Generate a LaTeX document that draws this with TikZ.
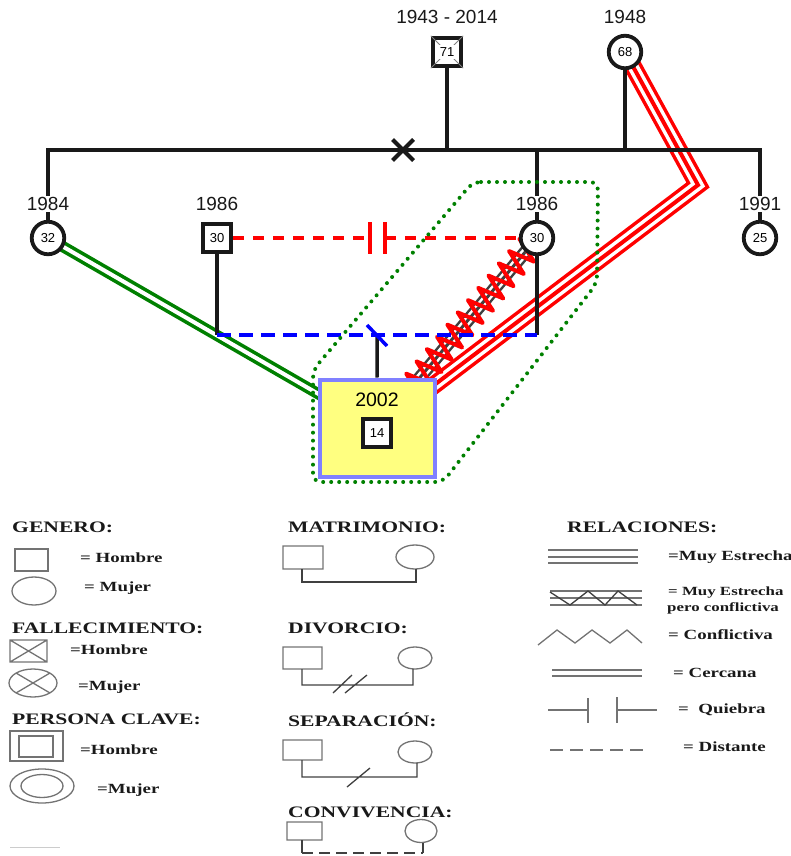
\documentclass[tikz,border=0pt]{standalone}
\usepackage{fontspec}
\setmainfont{Liberation Sans}
\newfontfamily\legfont[FakeStretch=1.35]{Liberation Serif}
\usetikzlibrary{calc,backgrounds,shapes.misc,decorations.pathmorphing}
\definecolor{verde}{RGB}{0,128,0}
\definecolor{clavefill}{RGB}{255,255,128}
\definecolor{claveline}{RGB}{128,128,255}

\begin{document}
\begin{tikzpicture}[x=1pt,y=-1pt,
    kin/.style={line width=3.5pt,draw=black!90},
    male/.style={draw=black!90,fill=white,line width=3.8pt,minimum size=28.5pt,inner sep=0pt,font=\fontsize{13}{14}\selectfont},
    female/.style={male,circle,minimum size=32.5pt},
    year/.style={fill=white,inner sep=1pt,text=black!90,font=\fontsize{19}{20}\selectfont},
    clave/.style={draw=claveline,fill=clavefill,line width=4pt,minimum width=115pt,minimum height=97pt},
    cercana/.style={draw=verde,line width=3.6pt,double=white,double distance=4pt},
    muyestrecha/.style={draw=red,line width=18pt,postaction={draw=white,line width=11pt},postaction={draw=red,line width=4pt}},
    tenso/.style={draw=black!75,line width=13pt,postaction={draw=white,line width=8pt},postaction={draw=black!75,line width=3pt}},
    conflicto/.style={draw=red,line width=4pt,line join=round,decorate,decoration={zigzag,segment length=16pt,amplitude=13pt}},
    distante/.style={draw=blue,line width=3.5pt,dash pattern=on 14pt off 8pt},
    quiebra/.style={draw=red,line width=3.5pt,dash pattern=on 11pt off 9pt},
    foco/.style={draw=verde,line width=4pt,dash pattern=on 0pt off 8pt,line cap=round,rounded corners=8pt},
    leghead/.style={anchor=west,inner sep=0pt,text=black!90,font=\legfont\bfseries\fontsize{16}{18}\selectfont},
    legitem/.style={leghead,font=\legfont\bfseries\fontsize{14}{15}\selectfont},
    legsym/.style={draw=black!55,line width=1.3pt}]
    \useasboundingbox (0,0) rectangle (791,856);

    \node[male] (gf) at (447,52) {};
    \draw[gray,line width=0.8pt] (gf.north west) -- (gf.south east) (gf.north east) -- (gf.south west);
    \node[fill=white,inner sep=2.5pt,font=\fontsize{13}{14}\selectfont] (gfa) at (gf) {71};
    \node[year] (gfy) at (447,17) {1943 - 2014};
    \node[female] (gm) at (625,52) {68};
    \node[year] (gmy) at (625,17) {1948};

    \node[female] (a84) at (48,238) {32};
    \node[male] (m86) at (217,238) {30};
    \node[female] (mo86) at (537,238) {30};
    \node[female] (a91) at (760,238) {25};
    \node[year] (y84) at (48,204) {1984};
    \node[year] (y86m) at (217,204) {1986};
    \node[year] (y86f) at (537,204) {1986};
    \node[year] (y91) at (760,204) {1991};

    \node[clave] (ip) at (377.5,428) {};
    \node[font=\fontsize{19.5}{20}\selectfont] (ipy) at (377,400) {2002};
    \node[male] (ip14) at (377,433) {14};

    \coordinate (sl) at (48,150);
    \coordinate (sr) at (760,150);
    \coordinate (gfd) at (447,150);
    \coordinate (gmd) at (625,150);
    \coordinate (s3) at (537,150);
    \coordinate (cpl) at (217,335);
    \coordinate (cpr) at (537,335);
    \coordinate (cc) at (377,335);
    \coordinate (q1) at (370,238);
    \coordinate (q2) at (385,238);
    \coordinate (bd) at (698,185);
    \node[cross out,draw=black!90,line width=4pt,minimum size=17pt,inner sep=0pt] (dx) at (403,150) {};

    \begin{scope}[on background layer]
        \draw[muyestrecha] (gm.center) -- (bd) -- (ip.center);
        \draw[cercana] (a84.center) -- (ip.center);
        \draw[tenso] (mo86.center) -- (ip.center);
        \draw[conflicto] (mo86.center) -- (ip.center);
        \draw[quiebra] (m86) -- (q1);
        \draw[quiebra] (q2) -- (mo86);
        \draw[kin] (a84) -- (sl) -- (sr) -- (a91);
        \draw[kin] (gf) -- (gfd);
        \draw[kin] (gm) -- (gmd);
        \draw[kin] (s3) -- (mo86);
        \draw[kin] (m86) -- (cpl);
        \draw[kin] (mo86) -- (cpr);
        \draw[kin] (cc) -- (ip);
        \draw[distante] (cpl) -- (cpr);
        \draw[foco] (473,182) -- (598,182) -- (597,283) -- (443,482) -- (313,482) -- (313,370) -- cycle;
    \end{scope}
    \draw[red,line width=3.5pt] ($(q1)+(0,-16)$) -- ($(q1)+(0,16)$);
    \draw[red,line width=3.5pt] ($(q2)+(0,-16)$) -- ($(q2)+(0,16)$);
    \draw[blue,line width=3.5pt] ($(cc)+(-10,-10)$) -- ($(cc)+(10,11)$);

    % leyenda
    \node[leghead] (gen) at (12,527) {GENERO:};
    \draw[legsym] (15,549) rectangle (48,571);
    \node[legitem] (genH) at (80,558) {= Hombre};
    \draw[legsym] (34,591) ellipse (22 and 14);
    \node[legitem] (genM) at (84,588) {= Mujer};
    \node[leghead] (fal) at (12,628) {FALLECIMIENTO:};
    \draw[legsym] (10,640) rectangle (47,662) (10,640) -- (47,662) (10,662) -- (47,640);
    \node[legitem] (falH) at (70,650) {=Hombre};
    \draw[legsym] (33,683) ellipse (24 and 14) (16,673) -- (50,693) (16,693) -- (50,673);
    \node[legitem] (falM) at (78,687) {=Mujer};
    \node[leghead] (pc) at (12,719) {PERSONA CLAVE:};
    \draw[legsym] (10,731) rectangle (63,761) (19,736) rectangle (53,757);
    \node[legitem] (pcH) at (80,750) {=Hombre};
    \draw[legsym] (42,786) ellipse (32 and 17) (42,786) ellipse (21 and 11.5);
    \node[legitem] (pcM) at (97,790) {=Mujer};
    \draw[black!20,line width=1pt] (10,847) -- (60,847);

    \node[leghead] (mat) at (288,527) {MATRIMONIO:};
    \draw[legsym] (283,546) rectangle (323,569) (415,557) ellipse (19 and 12);
    \draw[legsym,draw=black!75] (302,569) -- (302,582) -- (416,582) -- (416,569);
    \node[leghead] (div) at (288,628) {DIVORCIO:};
    \draw[legsym] (283,647) rectangle (322,669) (415,658) ellipse (17 and 11);
    \draw[legsym,draw=black!75] (302,669) -- (302,685) -- (413,685) -- (413,669) (333,693) -- (352,675) (345,693) -- (367,675);
    \node[leghead] (sep) at (288,720) {SEPARACIÓN:};
    \draw[legsym] (283,740) rectangle (322,760) (415,752) ellipse (17 and 11);
    \draw[legsym,draw=black!75] (302,760) -- (302,777) -- (417,777) -- (417,763) (347,787) -- (370,768);
    \node[leghead] (conv) at (288,812) {CONVIVENCIA:};
    \draw[legsym] (287,822) rectangle (322,840) (421,831) ellipse (16 and 11.5);
    \draw[legsym,draw=black!75] (302,840) -- (302,853) (423,853) -- (423,843);
    \draw[legsym,draw=black!75,dash pattern=on 11pt off 6pt] (302,853) -- (423,853);

    \node[leghead] (rel) at (567,527) {RELACIONES:};
    \draw[legsym] (548,550) -- (638,550) (548,557) -- (638,557) (548,563) -- (638,563);
    \node[legitem] (relA) at (668,557) {=Muy Estrecha};
    \draw[legsym] (550,591) -- (642,591) (550,598) -- (642,598) (550,605) -- (642,605);
    \draw[legsym,draw=black!75] (550,592) -- (570,605) -- (588,591) -- (605,605) -- (618,591) -- (637,605);
    \node[legitem,font=\legfont\bfseries\fontsize{12.5}{13}\selectfont] (relB) at (668,593) {= Muy Estrecha};
    \node[legitem,font=\legfont\bfseries\fontsize{12.5}{13}\selectfont] (relB2) at (667,608) {pero conflictiva};
    \draw[legsym] (538,645) -- (557,630) -- (575,643) -- (592,630) -- (610,643) -- (627,630) -- (642,643);
    \node[legitem] (relC) at (668,635) {= Conflictiva};
    \draw[legsym] (552,670) -- (642,670) (552,676) -- (642,676);
    \node[legitem] (relD) at (673,673) {= Cercana};
    \draw[legsym] (548,710) -- (588,710) (588,698) -- (588,723) (617,697) -- (617,723) (617,710) -- (657,710);
    \node[legitem] (relE) at (678,710) {=\ \ Quiebra};
    \draw[legsym,dash pattern=on 13pt off 7pt] (550,750) -- (647,750);
    \node[legitem] (relF) at (683,747) {= Distante};
\end{tikzpicture}
\end{document}
